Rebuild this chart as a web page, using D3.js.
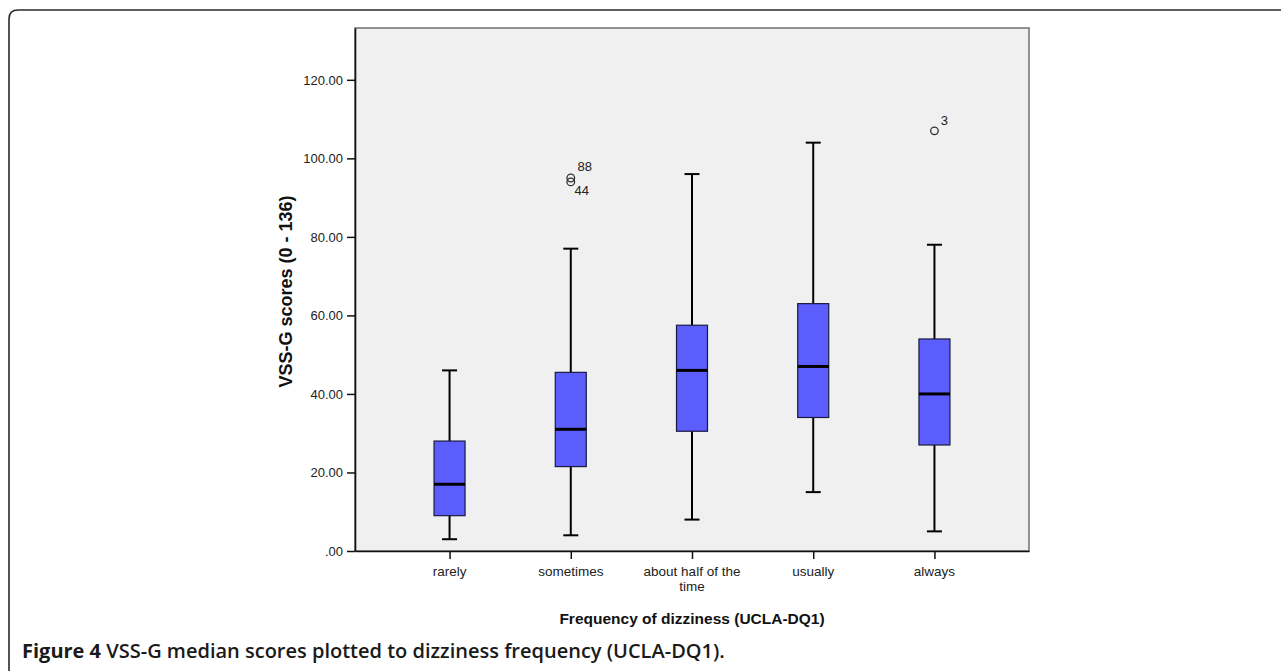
<!DOCTYPE html>
<html>
<head>
<meta charset="utf-8">
<script src="https://cdn.jsdelivr.net/npm/d3@7/dist/d3.min.js"></script>
<style>
  html, body { margin: 0; padding: 0; background: #fff; }
  svg { display: block; }
</style>
</head>
<body>
<svg id="chart" width="1281" height="671"></svg>
<script>
// ---- data ----
const categories = ["rarely", "sometimes", "about half of the time", "usually", "always"];
const whiskerLow  = [3, 4, 8, 15, 5];
const q1Values    = [9, 21.5, 30.5, 34, 27];
const medians     = [17, 31, 46, 47, 40];
const q3Values    = [28, 45.5, 57.5, 63, 54];
const whiskerHigh = [46, 77, 96, 104, 78];
const outlierCats   = ["sometimes", "sometimes", "always"];
const outlierValues = [95, 94, 107];
const outlierLabels = ["88", "44", "3"];
const yTicks = [0, 20, 40, 60, 80, 100, 120];
const yMax = 133.2;

const svg = d3.select("#chart");
const W = 1281, H = 671;

// outer figure frame (rounded top-left)
const fx = 9, fy = 10, r = 9;
svg.append("path")
  .attr("d", `M${fx},${H + 2} L${fx},${fy + r} Q${fx},${fy} ${fx + r},${fy} L${W + 2},${fy}`)
  .attr("fill", "none").attr("stroke", "#2a2a2a").attr("stroke-width", 1.6);

const plot = { left: 355, right: 1029, top: 28, bottom: 551 };

const x = d3.scalePoint().domain(categories).range([plot.left, plot.right]).padding(0.78);
const y = d3.scaleLinear().domain([0, yMax]).range([plot.bottom, plot.top]);

// plot background
svg.append("rect")
  .attr("x", plot.left).attr("y", plot.top)
  .attr("width", plot.right - plot.left).attr("height", plot.bottom - plot.top)
  .attr("fill", "#f0f0f0").attr("stroke", "#707070").attr("stroke-width", 1.5);

// axes
const yAxis = d3.axisLeft(y).tickValues(yTicks).tickSizeInner(8).tickSizeOuter(0).tickPadding(4)
  .tickFormat(d => d === 0 ? ".00" : d.toFixed(2));
const gy = svg.append("g").attr("transform", `translate(${plot.left},0)`).call(yAxis);
gy.select(".domain").attr("stroke", "#111").attr("stroke-width", 1.6);
gy.selectAll(".tick line").attr("stroke", "#111").attr("stroke-width", 1.5);
gy.selectAll(".tick text").attr("font-family", "'Liberation Sans', Arial, sans-serif")
  .attr("font-size", 13).attr("fill", "#222");

const xAxis = d3.axisBottom(x).tickSizeInner(8).tickSizeOuter(0).tickPadding(6).tickFormat(() => "");
const gx = svg.append("g").attr("transform", `translate(0,${plot.bottom})`).call(xAxis);
gx.select(".domain").attr("stroke", "#111").attr("stroke-width", 1.6);
gx.selectAll(".tick line").attr("stroke", "#111").attr("stroke-width", 1.5);

// x tick labels (wrapped like original)
const labelLines = {
  "rarely": ["rarely"],
  "sometimes": ["sometimes"],
  "about half of the time": ["about half of the", "time"],
  "usually": ["usually"],
  "always": ["always"]
};
categories.forEach(c => {
  labelLines[c].forEach((ln, i) => {
    svg.append("text")
      .attr("x", x(c)).attr("y", plot.bottom + 25 + i * 15)
      .attr("text-anchor", "middle")
      .attr("font-family", "'Liberation Sans', Arial, sans-serif")
      .attr("font-size", 13.5).attr("fill", "#222")
      .text(ln);
  });
});

// axis titles
svg.append("text")
  .attr("transform", `translate(${292},${(plot.top + plot.bottom) / 2 + 2}) rotate(-90)`)
  .attr("text-anchor", "middle")
  .attr("font-family", "'Liberation Sans', Arial, sans-serif")
  .attr("font-weight", "bold").attr("font-size", 18).attr("fill", "#111")
  .text("VSS-G scores (0 - 136)");

svg.append("text")
  .attr("x", (plot.left + plot.right) / 2).attr("y", 624)
  .attr("text-anchor", "middle")
  .attr("font-family", "'Liberation Sans', Arial, sans-serif")
  .attr("font-weight", "bold").attr("font-size", 15.5).attr("fill", "#111")
  .text("Frequency of dizziness (UCLA-DQ1)");

// boxes
const boxW = 31, capW = 15;
const g = svg.append("g");
categories.forEach((c, i) => {
  const cx = x(c);
  const gg = g.append("g");
  gg.append("line").attr("x1", cx).attr("x2", cx)
    .attr("y1", y(whiskerHigh[i])).attr("y2", y(q3Values[i]))
    .attr("stroke", "#000").attr("stroke-width", 2);
  gg.append("line").attr("x1", cx).attr("x2", cx)
    .attr("y1", y(q1Values[i])).attr("y2", y(whiskerLow[i]))
    .attr("stroke", "#000").attr("stroke-width", 2);
  [whiskerHigh[i], whiskerLow[i]].forEach(v => {
    gg.append("line").attr("x1", cx - capW / 2).attr("x2", cx + capW / 2)
      .attr("y1", y(v)).attr("y2", y(v))
      .attr("stroke", "#000").attr("stroke-width", 2);
  });
  gg.append("rect")
    .attr("x", cx - boxW / 2).attr("y", y(q3Values[i]))
    .attr("width", boxW).attr("height", y(q1Values[i]) - y(q3Values[i]))
    .attr("fill", "#5b5dfd").attr("stroke", "#1a1a40").attr("stroke-width", 1.2);
  gg.append("line").attr("x1", cx - boxW / 2).attr("x2", cx + boxW / 2)
    .attr("y1", y(medians[i])).attr("y2", y(medians[i]))
    .attr("stroke", "#000").attr("stroke-width", 3);
});

// outliers
outlierValues.forEach((v, i) => {
  const cx = x(outlierCats[i]);
  svg.append("circle").attr("cx", cx).attr("cy", y(v)).attr("r", 3.8)
    .attr("fill", "none").attr("stroke", "#333").attr("stroke-width", 1.3);
});
const labelOffsets = [[14, -7], [11, 13], [10, -6]];
outlierValues.forEach((v, i) => {
  const cx = x(outlierCats[i]);
  svg.append("text")
    .attr("x", cx + labelOffsets[i][0]).attr("y", y(v) + labelOffsets[i][1])
    .attr("text-anchor", "middle")
    .attr("font-family", "'Liberation Sans', Arial, sans-serif")
    .attr("font-size", 13).attr("fill", "#222")
    .text(outlierLabels[i]);
});

// caption
const cap = svg.append("text")
  .attr("x", 22).attr("y", 658)
  .attr("font-family", "'Open Sans', 'Noto Sans', sans-serif")
  .attr("font-size", 20).attr("fill", "#1a1a1a");
cap.append("tspan").attr("font-weight", 700).text("Figure 4");
cap.append("tspan").attr("font-weight", 600).text(" VSS-G median scores plotted to dizziness frequency (UCLA-DQ1).");
</script>
</body>
</html>
